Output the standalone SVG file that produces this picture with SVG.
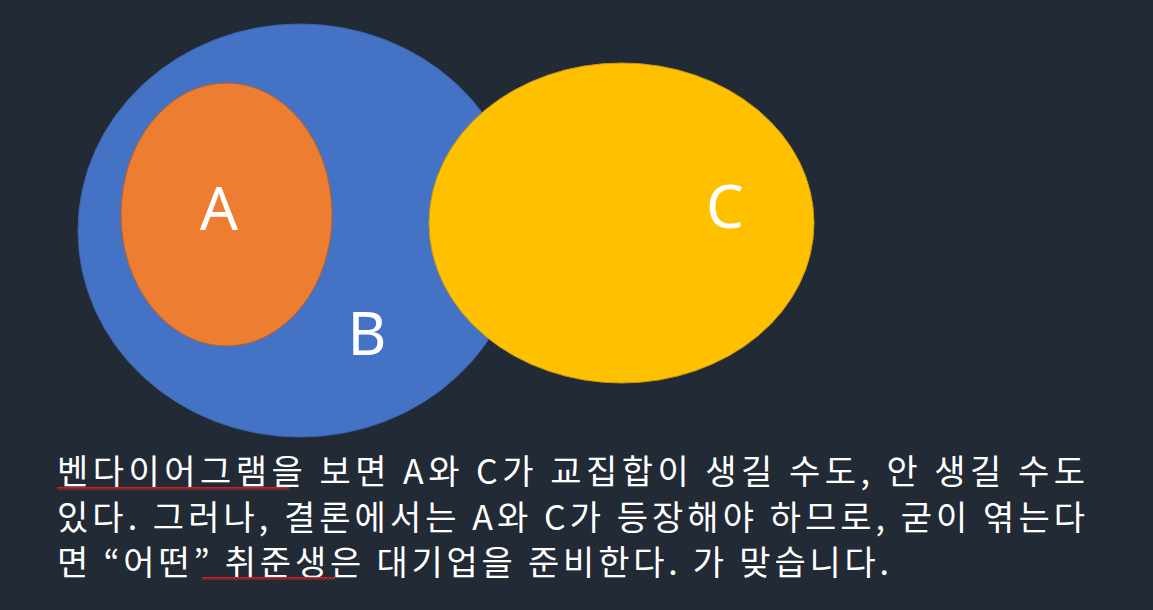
<svg xmlns="http://www.w3.org/2000/svg" width="1153" height="610" viewBox="0 0 1153 610">
<defs>
<pattern id="wave" x="0" y="0" width="4" height="3" patternUnits="userSpaceOnUse">
<polyline points="0,0.5 2,2.5 4,0.5" fill="none" stroke="#E02020" stroke-width="1.4"/>
</pattern>
</defs>
<style>
.lbl{font-family:"Noto Sans","Noto Sans CJK KR",sans-serif;font-size:60px;fill:#FFFFFF;}
.body{font-family:"Noto Sans CJK KR","Noto Sans",sans-serif;font-size:34px;fill:#FFFFFF;}
</style>
<rect x="0" y="0" width="1153" height="610" fill="#222A35"/>
<g id="nodeB">
<ellipse cx="300" cy="230.5" rx="222" ry="206.5" fill="#4472C4" stroke="#3C64AC" stroke-width="1"/>
<text class="lbl" x="367" y="355" text-anchor="middle">B</text>
</g>
<g id="nodeA">
<ellipse cx="226.5" cy="214.5" rx="105.5" ry="131.5" fill="#ED7D31" stroke="#B9622A" stroke-width="1"/>
<text class="lbl" x="219" y="230" text-anchor="middle">A</text>
</g>
<g id="nodeC">
<ellipse cx="621.5" cy="223" rx="192.5" ry="160" fill="#FFC000" stroke="#C99A10" stroke-width="1"/>
<text class="lbl" x="725" y="228" text-anchor="middle">C</text>
</g>
<g id="connectors"></g>
<g id="caption">
<text class="body" x="57" y="484" textLength="1028" lengthAdjust="spacing">벤다이어그램을 보면 A와 C가 교집합이 생길 수도, 안 생길 수도</text>
<text class="body" x="57" y="530" textLength="1028" lengthAdjust="spacing">있다. 그러나, 결론에서는 A와 C가 등장해야 하므로, 굳이 엮는다</text>
<text class="body" x="57" y="575" textLength="832" lengthAdjust="spacing">면 “어떤” 취준생은 대기업을 준비한다. 가 맞습니다.</text>
<rect x="57" y="487" width="232" height="3" fill="url(#wave)"/>
<rect x="202" y="577" width="133" height="3" fill="url(#wave)"/>
</g>
</svg>
